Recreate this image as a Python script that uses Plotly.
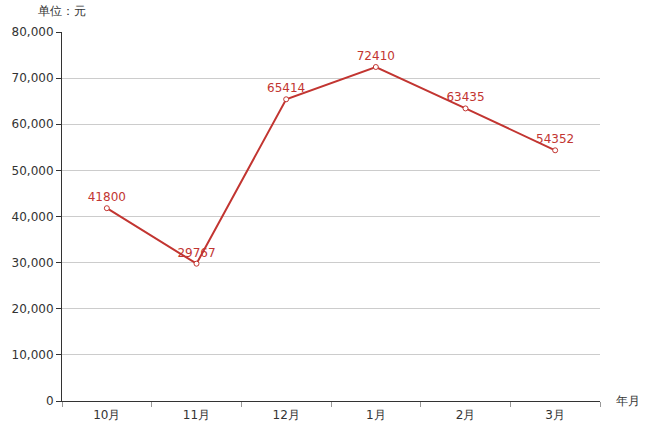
import plotly.graph_objects as go

months = ["10月", "11月", "12月", "1月", "2月", "3月"]
values = [41800, 29767, 65414, 72410, 63435, 54352]
y_ticks = [0, 10000, 20000, 30000, 40000, 50000, 60000, 70000, 80000]

RED = "#c23531"
FONT = "DejaVu Sans, sans-serif"

fig = go.Figure()
fig.add_trace(go.Scatter(
    x=months, y=values, mode="lines+markers+text",
    line=dict(color=RED, width=2),
    marker=dict(symbol="circle", size=5, color="white", line=dict(color=RED, width=1)),
    text=[str(v) for v in values], textposition="top center",
    textfont=dict(color=RED, size=12, family=FONT),
    cliponaxis=False, showlegend=False,
))

fig.update_layout(
    width=647, height=434,
    margin=dict(l=62, r=47, t=32, b=33),
    paper_bgcolor="white", plot_bgcolor="white",
    font=dict(family=FONT, size=12, color="#333"),
    xaxis=dict(
        type="category", range=[-0.5, 5.5],
        showline=True, linecolor="#333", linewidth=1,
        ticks="outside", tickson="boundaries", ticklen=5, tickcolor="#999",
        ticklabelstandoff=3,
        showgrid=False, tickfont=dict(size=12, color="#333"),
    ),
    yaxis=dict(
        range=[0, 80000], tickvals=y_ticks, tickformat=",",
        showline=True, linecolor="#333", linewidth=1,
        ticks="outside", ticklen=5, tickcolor="#333",
        showgrid=True, gridcolor="#ccc", gridwidth=1,
        zeroline=False, tickfont=dict(size=12, color="#333"),
    ),
    annotations=[
        dict(text="单位：元", xref="paper", yref="paper", x=0, y=1, xshift=-26, yshift=21,
             xanchor="left", yanchor="middle", showarrow=False,
             font=dict(size=12, color="#333", family=FONT)),
        dict(text="年月", xref="paper", yref="paper", x=1, y=0, xshift=14,
             xanchor="left", yanchor="middle", showarrow=False,
             font=dict(size=12, color="#333", family=FONT)),
    ],
)

fig.write_html(
    "out.html",
    config={"displayModeBar": False},
    post_script="document.body.style.margin='0';document.body.style.overflow='hidden';",
)
